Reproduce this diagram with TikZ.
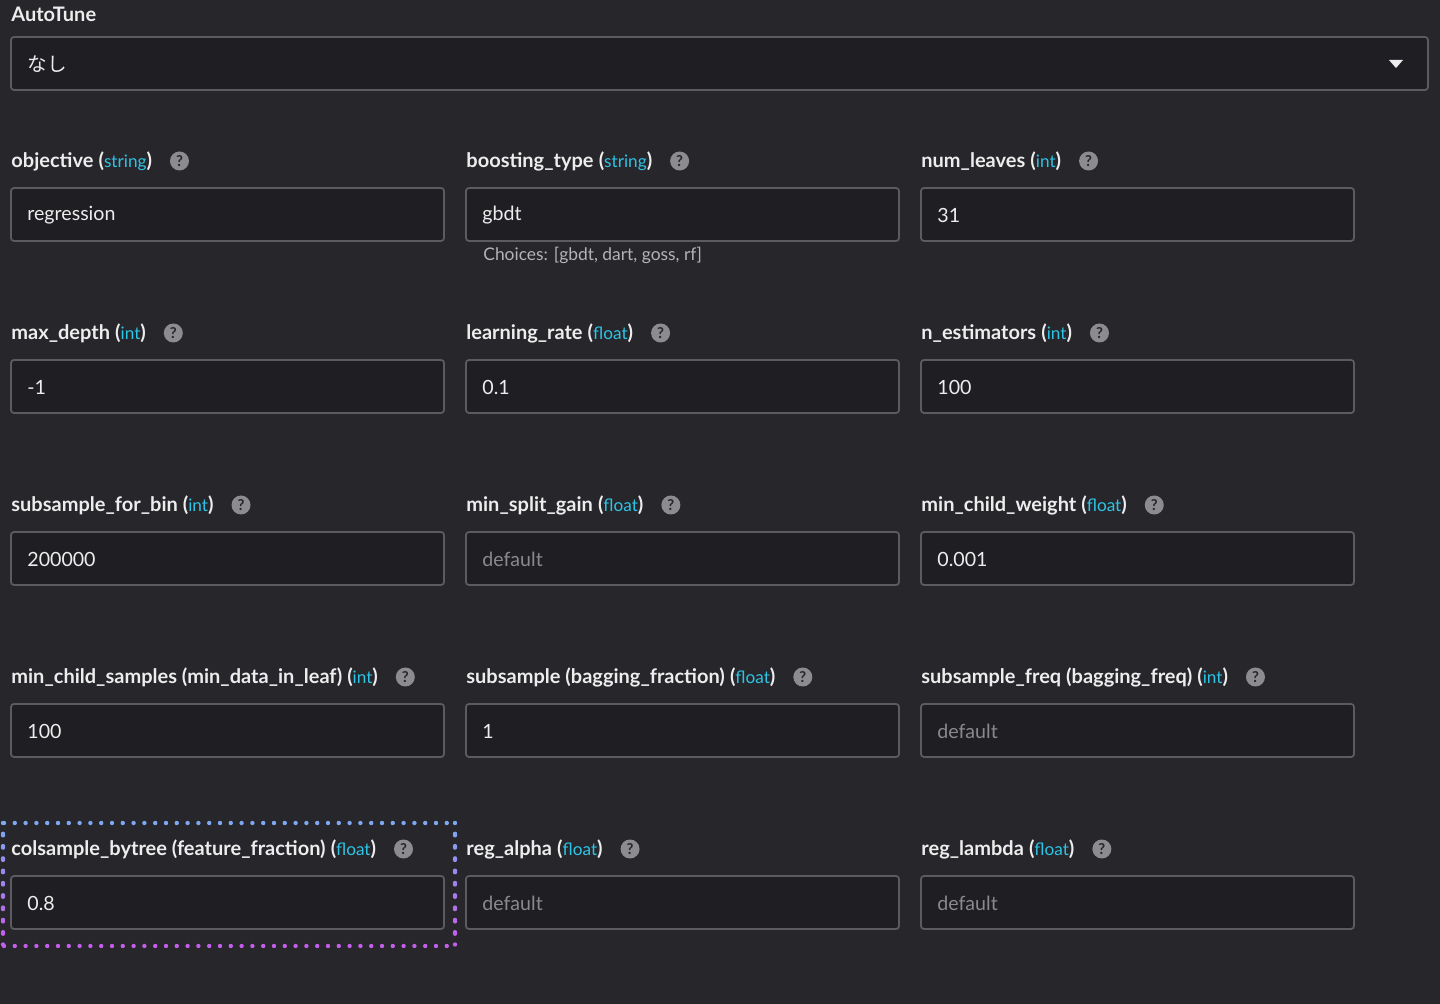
\documentclass[tikz,border=0pt]{standalone}
\usepackage{fontspec}
\setmainfont{Lato}
\newfontfamily\cjk{Noto Sans CJK JP}
\begin{document}
\definecolor{bg}{HTML}{26262B}
\definecolor{fieldbg}{HTML}{1F1F23}
\definecolor{fieldline}{HTML}{5C5C60}
\definecolor{txt}{HTML}{EDEDED}
\definecolor{typec}{HTML}{2EC4E6}
\definecolor{ph}{HTML}{8A8A8E}
\definecolor{chc}{HTML}{B4B4B8}
\definecolor{helpc}{HTML}{8C8C90}
\definecolor{dotA}{HTML}{7FA8F2}
\definecolor{dotB}{HTML}{C25EEA}
\newcommand{\lbl}[2]{\textbf{#1} \textbf{(}{\color{typec}\fontsize{8.6}{10}\selectfont#2}\textbf{)}}
\begin{tikzpicture}[x=0.5pt,y=-0.5pt,
  field/.style={draw=fieldline,fill=fieldbg,line width=0.9pt,rounded corners=1.5pt},
  lab/.style={anchor=west,text=txt,font=\fontsize{10}{11}\selectfont,inner sep=0pt},
  val/.style={anchor=west,text=txt,font=\fontsize{9.8}{11}\selectfont,inner sep=0pt},
  phv/.style={val,text=ph},
  help/.style={circle,fill=helpc,minimum size=9.5pt,inner sep=0pt,text=bg,font=\bfseries\fontsize{7.5}{8}\selectfont},
  dots/.style={line width=2.2pt,line cap=round,dash pattern=on 0pt off 5.4pt}]
\fill[bg] (0,0) rectangle (1440,1004);
\useasboundingbox (0,0) rectangle (1440,1004);
\node[lab] (at) at (11,14) {\textbf{AutoTune}};
\draw[field] (11,37) rectangle (1428,90);
\node[val] (atv) at (27,64) {\cjk なし};
\fill[txt] (1389,60) -- (1403,60) -- (1396,68) -- cycle;
\newcommand{\fld}[6]{%
  \node[lab] (#1l) at (#2,#3) {#4};
  \node[help] (#1h) at ([xshift=13.5pt]#1l.east) {?};
  \draw[field] (#2,#3+27) rectangle (#2+433,#3+80);
  \node[#6] (#1v) at (#2+16,#3+54) {#5};
}
\fld{a1}{11}{161}{\lbl{objective}{string}}{regression}{val}
\fld{a2}{466}{161}{\lbl{boosting\_type}{string}}{gbdt}{val}
\fld{a3}{921}{161}{\lbl{num\_leaves}{int}}{31}{val}
\node[lab,text=chc,font=\fontsize{8.7}{10}\selectfont] (ch) at (483,255) {Choices: [gbdt, dart, goss, rf]};
\fld{b1}{11}{333}{\lbl{max\_depth}{int}}{-1}{val}
\fld{b2}{466}{333}{\lbl{learning\_rate}{float}}{0.1}{val}
\fld{b3}{921}{333}{\lbl{n\_estimators}{int}}{100}{val}
\fld{c1}{11}{505}{\lbl{subsample\_for\_bin}{int}}{200000}{val}
\fld{c2}{466}{505}{\lbl{min\_split\_gain}{float}}{default}{phv}
\fld{c3}{921}{505}{\lbl{min\_child\_weight}{float}}{0.001}{val}
\fld{d1}{11}{677}{\lbl{min\_child\_samples (min\_data\_in\_leaf)}{int}}{100}{val}
\fld{d2}{466}{677}{\lbl{subsample (bagging\_fraction)}{float}}{1}{val}
\fld{d3}{921}{677}{\lbl{subsample\_freq (bagging\_freq)}{int}}{default}{phv}
\fld{e1}{11}{849}{\lbl{colsample\_bytree (feature\_fraction)}{float}}{0.8}{val}
\fld{e2}{466}{849}{\lbl{reg\_alpha}{float}}{default}{phv}
\fld{e3}{921}{849}{\lbl{reg\_lambda}{float}}{default}{phv}
\draw[dots,dotA] (4,823) -- (455,823);
\draw[dots,dotB] (4,946) -- (455,946);
\foreach \i in {0,...,9}{
  \pgfmathsetmacro{\pc}{100-\i*11}
  \draw[dots,dotA!\pc!dotB] (3,823+\i*12.3) -- (3,823+\i*12.3+12.3);
  \draw[dots,dotA!\pc!dotB] (455,823+\i*12.3) -- (455,823+\i*12.3+12.3);
}
\end{tikzpicture}
\end{document}
